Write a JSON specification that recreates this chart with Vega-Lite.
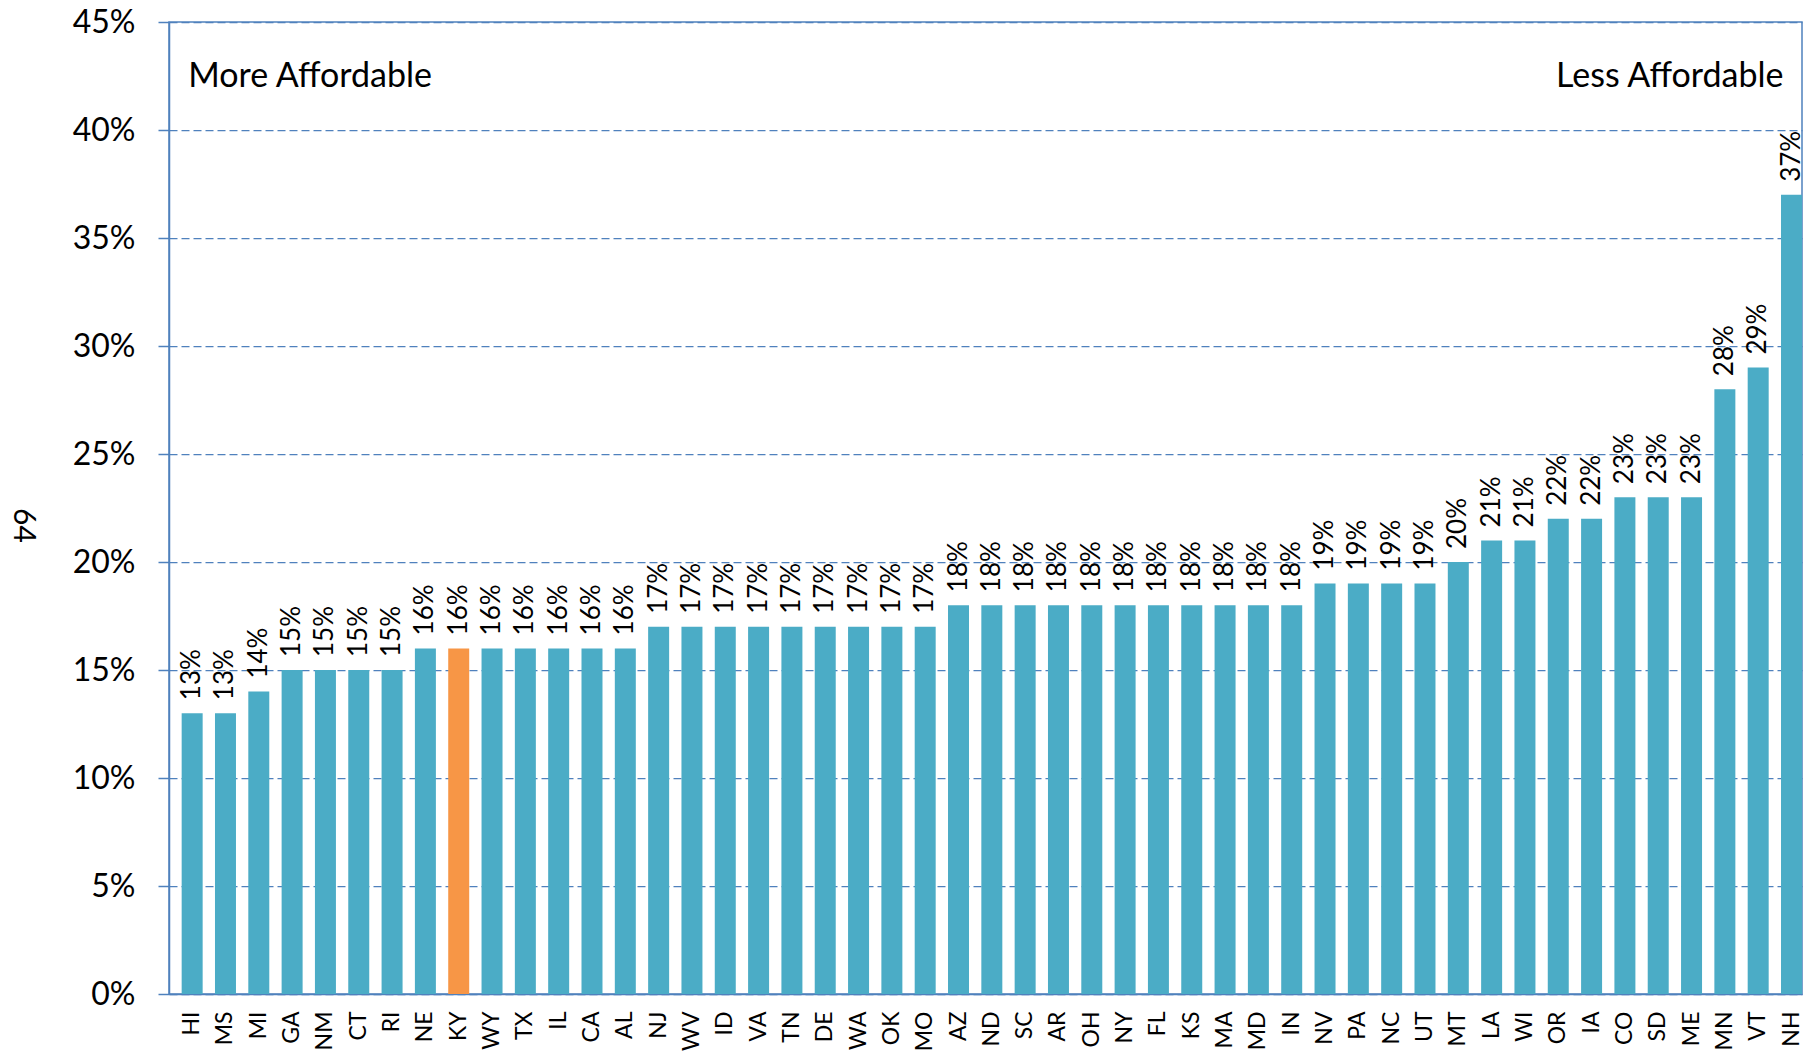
{
  "$schema": "https://vega.github.io/schema/vega-lite/v6.json",
  "autosize": {"type": "none"},
  "width": 1633,
  "height": 972,
  "padding": {"left": 169, "top": 22, "right": 15, "bottom": 57},
  "background": "white",
  "config": {
    "font": "Lato",
    "view": {"stroke": "#4F81BD", "strokeWidth": 1.5},
    "axis": {"labelFont": "Lato", "titleFont": "Lato", "labelColor": "black", "titleColor": "black"}
  },
  "data": {
    "values": [
      {"state": "HI", "pct": 0.13}, {"state": "MS", "pct": 0.13}, {"state": "MI", "pct": 0.14},
      {"state": "GA", "pct": 0.15}, {"state": "NM", "pct": 0.15}, {"state": "CT", "pct": 0.15},
      {"state": "RI", "pct": 0.15}, {"state": "NE", "pct": 0.16}, {"state": "KY", "pct": 0.16},
      {"state": "WY", "pct": 0.16}, {"state": "TX", "pct": 0.16}, {"state": "IL", "pct": 0.16},
      {"state": "CA", "pct": 0.16}, {"state": "AL", "pct": 0.16}, {"state": "NJ", "pct": 0.17},
      {"state": "WV", "pct": 0.17}, {"state": "ID", "pct": 0.17}, {"state": "VA", "pct": 0.17},
      {"state": "TN", "pct": 0.17}, {"state": "DE", "pct": 0.17}, {"state": "WA", "pct": 0.17},
      {"state": "OK", "pct": 0.17}, {"state": "MO", "pct": 0.17}, {"state": "AZ", "pct": 0.18},
      {"state": "ND", "pct": 0.18}, {"state": "SC", "pct": 0.18}, {"state": "AR", "pct": 0.18},
      {"state": "OH", "pct": 0.18}, {"state": "NY", "pct": 0.18}, {"state": "FL", "pct": 0.18},
      {"state": "KS", "pct": 0.18}, {"state": "MA", "pct": 0.18}, {"state": "MD", "pct": 0.18},
      {"state": "IN", "pct": 0.18}, {"state": "NV", "pct": 0.19}, {"state": "PA", "pct": 0.19},
      {"state": "NC", "pct": 0.19}, {"state": "UT", "pct": 0.19}, {"state": "MT", "pct": 0.20},
      {"state": "LA", "pct": 0.21}, {"state": "WI", "pct": 0.21}, {"state": "OR", "pct": 0.22},
      {"state": "IA", "pct": 0.22}, {"state": "CO", "pct": 0.23}, {"state": "SD", "pct": 0.23},
      {"state": "ME", "pct": 0.23}, {"state": "MN", "pct": 0.28}, {"state": "VT", "pct": 0.29},
      {"state": "NH", "pct": 0.37}
    ]
  },
  "encoding": {
    "x": {
      "field": "state", "type": "nominal", "sort": null,
      "scale": {"paddingInner": 0.37, "paddingOuter": 0.19, "align": 1},
      "axis": {
        "title": null, "labelAngle": 270, "labelFontSize": 23, "labelPadding": 17,
        "ticks": false, "domainColor": "#4F81BD", "domainWidth": 1.5, "grid": false
      }
    },
    "y": {
      "field": "pct", "type": "quantitative",
      "scale": {"domain": [0, 0.45], "nice": false},
      "axis": {
        "title": "64", "titleAngle": 90, "titleFontSize": 30, "titleFontWeight": "normal",
        "titleAlign": "center", "titleBaseline": "middle", "titleX": -147, "titleY": 503,
        "values": [0, 0.05, 0.1, 0.15, 0.2, 0.25, 0.3, 0.35, 0.4, 0.45],
        "format": ".0%", "labelFontSize": 32, "labelPadding": 23,
        "tickSize": 11, "tickColor": "#4F81BD", "tickWidth": 1.5,
        "domainColor": "#4F81BD", "domainWidth": 1.5,
        "grid": true, "gridColor": "#4F81BD", "gridWidth": 1.25, "gridDash": [8, 4], "gridOpacity": 1
      }
    }
  },
  "layer": [
    {
      "mark": {"type": "bar"},
      "encoding": {
        "color": {"condition": {"test": "datum.state === 'KY'", "value": "#F79646"}, "value": "#4BACC6"}
      }
    },
    {
      "mark": {"type": "text", "angle": 270, "align": "left", "baseline": "middle", "dx": 13, "fontSize": 26, "fontWeight": "normal", "font": "Lato", "color": "black"},
      "encoding": {"text": {"field": "pct", "type": "quantitative", "format": ".0%"}}
    },
    {
      "transform": [{"filter": "datum.state === 'HI'"}],
      "mark": {"type": "text", "align": "left", "baseline": "middle", "dx": -4, "fontSize": 34, "fontWeight": "normal", "font": "Lato", "color": "black", "text": "More Affordable"},
      "encoding": {"y": {"datum": 0.4245}}
    },
    {
      "transform": [{"filter": "datum.state === 'NH'"}],
      "mark": {"type": "text", "align": "right", "baseline": "middle", "dx": -8, "fontSize": 34, "fontWeight": "normal", "font": "Lato", "color": "black", "text": "Less Affordable"},
      "encoding": {"y": {"datum": 0.4245}}
    }
  ]
}
